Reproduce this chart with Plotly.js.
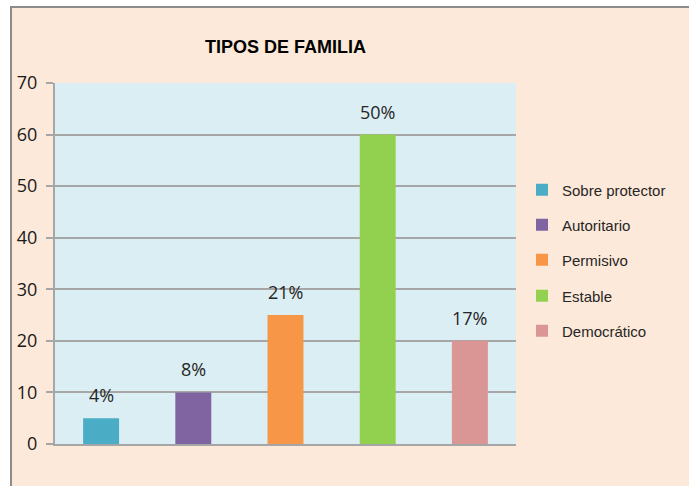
<!DOCTYPE html>
<html>
<head>
<meta charset="utf-8">
<script src="https://cdn.plot.ly/plotly-3.0.1.min.js"></script>
<style>
html,body{margin:0;padding:0;background:#ffffff;}
#chart{width:689px;height:486px;}
</style>
</head>
<body>
<div id="chart"></div>
<script>
const categories = ["Sobre protector", "Autoritario", "Permisivo", "Estable", "Democrático"];
const values = [5, 10, 25, 60, 20];
const percentLabels = ["4%", "8%", "21%", "50%", "17%"];
const colors = ["#4BACC6", "#8064A2", "#F79646", "#92D050", "#D99694"];
const titleText = "TIPOS DE FAMILIA";

// plot area in pixels: x 55..516, y 83..444
const L = 55, R = 516, T = 83, B = 444;
const W = R - L, H = B - T;
const px = p => (p - L) / W;
const py = p => (B - p) / H;

const legendName = i => (i === 0 ? "legend" : "legend" + (i + 1));

const traces = categories.map((c, i) => ({
  type: "bar",
  name: c,
  x: [c],
  y: [values[i]],
  width: 0.39,
  marker: {color: colors[i]},
  legend: legendName(i),
  hoverinfo: "skip"
}));

const annotations = categories.map((c, i) => ({
  x: c, y: values[i], xref: "x", yref: "y",
  text: percentLabels[i], showarrow: false,
  yanchor: "bottom", yshift: 9,
  font: {family: "Open Sans", size: 18, color: "#262626"}
}));

const layout = {
  width: 689, height: 486,
  margin: {l: L, r: 689 - R, t: T, b: 486 - B, pad: 0},
  paper_bgcolor: "#FDE9D9",
  plot_bgcolor: "#DBEEF4",
  title: {
    text: titleText,
    font: {family: "Liberation Sans, Arial, sans-serif", size: 18, color: "#000000", weight: "bold"},
    xref: "paper", x: 0.5, xanchor: "center",
    yref: "container", y: 1 - 47 / 486, yanchor: "middle"
  },
  barmode: "overlay",
  xaxis: {
    type: "category",
    showticklabels: false,
    showgrid: false,
    showline: true, linecolor: "#A6A6A6", linewidth: 2,
    ticks: "", zeroline: false,
    fixedrange: true
  },
  yaxis: {
    range: [0, 70], dtick: 10, tick0: 0,
    showgrid: true, gridcolor: "#A6A6A6", gridwidth: 2,
    showline: true, linecolor: "#A6A6A6", linewidth: 2,
    ticks: "outside", ticklen: 7, tickwidth: 2, tickcolor: "#A6A6A6",
    ticklabelstandoff: 5,
    zeroline: false,
    tickfont: {family: "Open Sans", size: 18, color: "#1a1a1a"},
    fixedrange: true
  },
  showlegend: true,
  annotations: annotations,
  shapes: [
    {type: "rect", xref: "paper", yref: "paper", x0: px(-5), x1: px(700), y0: py(-5), y1: py(7), fillcolor: "#ffffff", line: {width: 0}, layer: "above"},
    {type: "rect", xref: "paper", yref: "paper", x0: px(-5), x1: px(11), y0: py(-5), y1: py(500), fillcolor: "#ffffff", line: {width: 0}, layer: "above"},
    {type: "line", xref: "paper", yref: "paper", x0: px(10), x1: px(700), y0: py(7), y1: py(7), line: {color: "#8C8C8C", width: 2}},
    {type: "line", xref: "paper", yref: "paper", x0: px(11), x1: px(11), y0: py(6), y1: py(500), line: {color: "#8C8C8C", width: 2}}
  ]
};

const legendCenters = [190, 225, 260, 296, 331];
categories.forEach((c, i) => {
  layout[legendName(i)] = {
    xref: "container", yref: "container",
    x: 522 / 689, xanchor: "left",
    y: 1 - legendCenters[i] / 486, yanchor: "middle",
    bgcolor: "rgba(0,0,0,0)",
    font: {family: "Liberation Sans, Arial, sans-serif", size: 15, color: "#262626"},
    itemwidth: 30
  };
});

Plotly.newPlot("chart", traces, layout, {displayModeBar: false, staticPlot: true});
</script>
</body>
</html>
